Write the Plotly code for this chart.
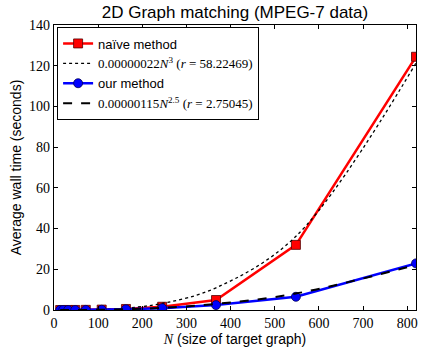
import plotly.graph_objects as go

# Data
N = [14, 21, 32, 48, 72, 108, 163, 245, 367, 548, 820]
naive_time = [0.001, 0.003, 0.01, 0.03, 0.08, 0.2, 0.5, 1.6, 4.9, 32.0, 124.4]
our_time = [0.001, 0.002, 0.005, 0.015, 0.04, 0.12, 0.35, 0.9, 2.4, 6.5, 22.9]
naive_fit = [0.0006, 0.002, 0.007, 0.024, 0.08, 0.28, 0.95, 3.2, 10.9, 36.2, 121.3]
our_fit = [0.0008, 0.002, 0.007, 0.018, 0.05, 0.14, 0.39, 1.08, 2.97, 8.08, 22.1]

x_ticks = [0, 100, 200, 300, 400, 500, 600, 700, 800]
y_ticks = [0, 20, 40, 60, 80, 100, 120, 140]

SERIF = "Liberation Serif, DejaVu Serif, serif"
SANS = "Liberation Sans, Arial, sans-serif"

def serif(s):
    return f"<span style='font-family:Liberation Serif'>{s}</span>"

fig = go.Figure()
fig.add_trace(go.Scatter(
    x=N, y=naive_time, mode="lines+markers", name="naïve method",
    line=dict(color="#ff0000", width=2.5),
    marker=dict(symbol="square", size=9, color="#ff0000", line=dict(color="#550000", width=0.8)),
))
fig.add_trace(go.Scatter(
    x=N, y=naive_fit, mode="lines", line_shape="spline",
    name=serif("0.00000022<i>N</i><sup>3</sup> (<i>r</i> = 58.22469)"),
    line=dict(color="black", width=1.3, dash="dot"),
))
fig.add_trace(go.Scatter(
    x=N, y=our_time, mode="lines+markers", name="our method",
    line=dict(color="#0000ff", width=2.5),
    marker=dict(symbol="circle", size=9, color="#0000ff", line=dict(color="#000055", width=0.8)),
))
fig.add_trace(go.Scatter(
    x=N, y=our_fit, mode="lines", line_shape="spline",
    name=serif("0.00000115<i>N</i><sup>2.5</sup> (<i>r</i> = 2.75045)"),
    line=dict(color="black", width=2, dash="dash"),
))

axis_common = dict(
    showline=True, linecolor="black", linewidth=1.2, mirror="ticks",
    ticks="inside", ticklen=4, tickcolor="black", tickwidth=1,
    showgrid=False, zeroline=False, automargin=False,
    tickfont=dict(family=SERIF, size=14, color="black"),
)

fig.update_layout(
    template="none",
    width=436, height=349,
    margin=dict(l=54, r=20, t=25, b=39, autoexpand=False),
    paper_bgcolor="white", plot_bgcolor="white",
    title=dict(text="2D Graph matching (MPEG-7 data)", x=(54 + 416) / 2 / 436, xanchor="center",
               y=1 - 12 / 349, yanchor="middle",
               font=dict(family=SANS, size=17, color="black")),
    xaxis=dict(range=[0, 820], tickvals=x_ticks, ticktext=[str(v) for v in x_ticks],
               title=dict(text=serif("<i>N</i>") + " (size of target graph)",
                          font=dict(family=SANS, size=14, color="black"), standoff=0),
               **axis_common),
    yaxis=dict(range=[0, 140], tickvals=y_ticks, ticktext=[str(v) for v in y_ticks],
               title=dict(text="Average wall time (seconds)",
                          font=dict(family=SANS, size=14, color="black"), standoff=4),
               **axis_common),
    legend=dict(x=0.008, y=0.992, xanchor="left", yanchor="top",
                bgcolor="white", bordercolor="black", borderwidth=1.2,
                font=dict(family=SANS, size=13, color="black"),
                itemwidth=30, tracegroupgap=0),
    showlegend=True,
)

fig.write_html("out.html", config={"displayModeBar": False},
               post_script="document.body.style.margin='0';document.body.style.padding='0';")
